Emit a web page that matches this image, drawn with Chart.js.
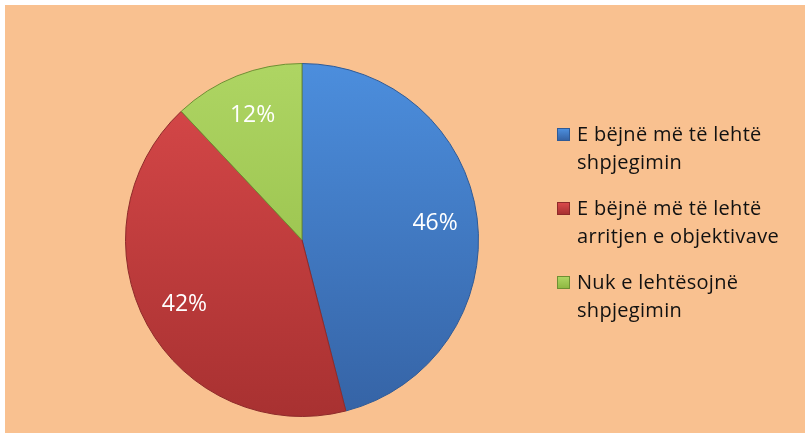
<!DOCTYPE html>
<html>
<head>
<meta charset="utf-8">
<script src="https://cdn.jsdelivr.net/npm/chart.js@4"></script>
<style>
    body { margin: 0; background: #fff; width: 805px; height: 433px; overflow: hidden; }
    #wrap { position: absolute; left: 5px; top: 5px; width: 800px; height: 428px; background: #F9C190; }
    #chart { position: absolute; left: 0; top: 0; }
    #legend { position: absolute; left: 552px; top: 115px; font-family: "Open Sans", sans-serif; font-size: 20px; letter-spacing: 0.3px; color: #111; font-variant-ligatures: none; }
    .leg-item { position: relative; padding-left: 20px; line-height: 28px; margin-bottom: 18px; white-space: nowrap; }
    .leg-box { position: absolute; left: 0; top: 8px; width: 13px; height: 13px; box-sizing: border-box; }
</style>
</head>
<body>
<div id="wrap">
    <canvas id="chart" width="800" height="428"></canvas>
    <div id="legend"></div>
</div>
<script>
// Chart data
const categories = [
    ['E bëjnë më të lehtë', 'shpjegimin'],
    ['E bëjnë më të lehtë', 'arritjen e objektivave'],
    ['Nuk e lehtësojnë', 'shpjegimin']
];
const percentages = [46, 42, 12];
const lightColors = ['#4C8EDD', '#D9494A', '#AED563'];
const darkColors = ['#3563A5', '#A83131', '#8FB842'];
const edgeColors = ['#2F5A96', '#8E2A2A', '#6E8F33'];

function sliceFill(context) {
    const i = context.dataIndex;
    const chart = context.chart;
    const area = chart.chartArea;
    if (!area) return lightColors[i];
    const g = chart.ctx.createLinearGradient(0, area.top, 0, area.bottom);
    g.addColorStop(0, lightColors[i]);
    g.addColorStop(1, darkColors[i]);
    return g;
}

// Percent labels inside slices
const sliceLabels = {
    id: 'sliceLabels',
    afterDatasetsDraw(chart) {
        const ctx = chart.ctx;
        const meta = chart.getDatasetMeta(0);
        ctx.save();
        ctx.fillStyle = '#ffffff';
        ctx.font = '23px "Open Sans", sans-serif';
        ctx.textAlign = 'center';
        ctx.textBaseline = 'middle';
        meta.data.forEach((arc, i) => {
            const mid = (arc.startAngle + arc.endAngle) / 2;
            const r = arc.outerRadius * 0.76;
            ctx.fillText(percentages[i] + '%', arc.x + Math.cos(mid) * r, arc.y + Math.sin(mid) * r);
        });
        ctx.restore();
    }
};

new Chart(document.getElementById('chart'), {
    type: 'pie',
    data: {
        labels: categories.map(c => c.join(' ')),
        datasets: [{
            data: percentages,
            backgroundColor: sliceFill,
            borderColor: edgeColors,
            borderWidth: 1
        }]
    },
    options: {
        responsive: false,
        animation: false,
        layout: { padding: { left: 120, right: 326, top: 58, bottom: 16 } },
        plugins: {
            legend: { display: false },
            tooltip: { enabled: false }
        }
    },
    plugins: [sliceLabels]
});

// HTML legend
document.getElementById('legend').innerHTML = categories.map((c, i) => `
    <div class="leg-item">
        <span class="leg-box" style="background: linear-gradient(${lightColors[i]}, ${darkColors[i]}); border: 1px solid ${edgeColors[i]}"></span>
        ${c.join('<br>')}
    </div>
`).join('');
</script>
</body>
</html>
